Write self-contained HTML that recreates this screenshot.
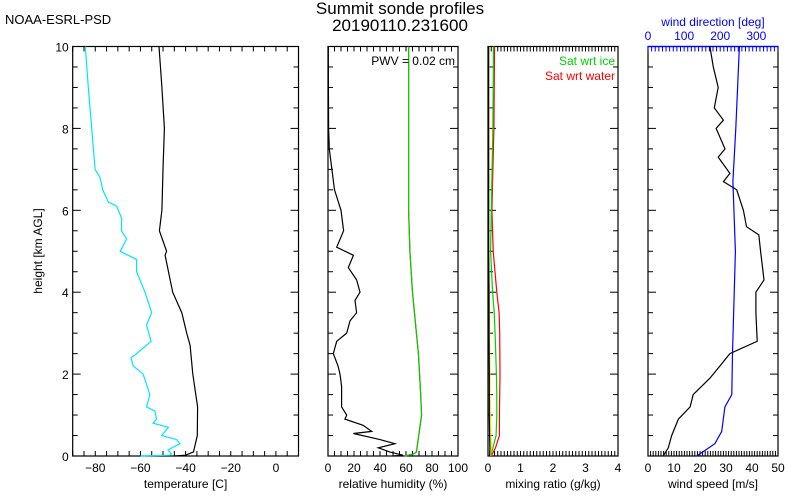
<!DOCTYPE html>
<html><head><meta charset="utf-8"><style>
body{margin:0;background:#fff;}
svg{display:block;font-family:"Liberation Sans",sans-serif;}
</style></head><body>
<svg id="chart" width="800" height="500" viewBox="0 0 800 500">
<text x="5" y="24" font-size="13">NOAA-ESRL-PSD</text>
<text x="400" y="14" font-size="17" text-anchor="middle">Summit sonde profiles</text>
<text x="400" y="31" font-size="17" text-anchor="middle">20190110.231600</text>
<text transform="translate(42,251) rotate(-90)" font-size="12" text-anchor="middle">height [km AGL]</text>
<g id="plots"></g>
</svg>
<script>
// heights (km) and values
const tHeights = [0,0.02,0.1,0.5,1.2,2,2.7,3,3.5,4,4.9,5,5.5,6,7,8,9,10];
const tempValues = [-45,-40,-36.5,-34.8,-34.7,-36.8,-38,-39.5,-41.7,-45.7,-49.1,-48.4,-51.6,-50.5,-50,-49.4,-50.5,-51.8];
const dHeights = [0,0.02,0.05,0.15,0.3,0.4,0.5,0.7,0.8,0.9,1.1,1.2,1.5,2,2.2,2.4,2.5,2.8,3.2,3.5,4,4.5,4.8,5,5.3,5.5,5.8,6.1,6.2,6.5,6.8,7,8,9,10];
const dewValues = [-60,-47,-46.3,-47.8,-42.5,-44,-50.6,-47.6,-54.4,-52.9,-53.6,-57.3,-55.8,-58.8,-63.2,-64.2,-61.7,-55.3,-57.3,-55,-58,-61.7,-61.7,-69,-66.1,-68.4,-68.3,-70.5,-74.2,-76.7,-77.9,-80.1,-81.6,-83.1,-84.4];
const rhHeights = [0,0.02,0.1,0.2,0.3,0.4,0.55,0.6,0.75,0.9,1.0,1.2,1.7,2,2.2,2.5,2.8,3.0,3.3,3.5,3.8,4,4.3,4.6,4.9,5.1,5.5,6,6.5,7,7.5,8,9,10];
const rhValues = [50,57.7,47.4,38.7,51.5,40,19.5,33.6,27,13,14.4,10.5,10.5,9.2,7.7,4.1,6.7,14.4,16.9,22,20.8,24.6,22,15.6,19.5,6.7,12,10,5,3,1,0.5,0.3,0.2];
const rhiHeights = [0,0.05,0.1,1,1.5,2.5,3,4,5,6,8,10];
const rhiValues = [59,66,68,72,71.3,69.5,68,65,63,62,62,62];
const mrHeights = [0,0.2,0.5,1,1.5,2,3,3.5,4,5,6,8,10];
const satWaterValues = [0.1,0.23,0.35,0.35,0.36,0.37,0.36,0.34,0.27,0.16,0.12,0.18,0.2];
const satIceValues = [0.08,0.15,0.25,0.27,0.27,0.26,0.22,0.19,0.14,0.08,0.1,0.15,0.17];
const mixValues = [0.05,0.06,0.05,0.04,0.04,0.04,0.03,0.03,0.03,0.02,0.02,0.02,0.02];
const mixIceValues = [0.08,0.1,0.09,0.07,0.06,0.06,0.05,0.05,0.04,0.03,0.03,0.03,0.03];
const wsHeights = [0,0.2,0.5,0.9,1.2,1.5,1.9,2.2,2.5,2.8,3.5,4,4.3,5,5.4,5.6,6,6.5,6.7,6.9,7.3,7.5,8,8.2,8.5,9,9.5,10];
const wsValues = [5.8,7.8,9.1,11.7,16.2,17.4,23.8,27.7,31.5,42,41.5,41.5,44.6,43.3,42.6,37.9,36.7,34.1,29,31.5,27,29.6,26.2,29,25.5,27,25.1,23.8];
const wdHeights = [0,0.3,0.6,1.2,1.5,2.5,5,6.7,8,10];
const wdValues = [135,185,204,213,232,234,242,235,243,253];
const tempTicks = [-80,-60,-40,-20,0];
const rhTicks = [0,20,40,60,80,100];
const mrTicks = [0,1,2,3,4];
const wsTicks = [0,10,20,30,40,50];
const wdTicks = [0,100,200,300];
const hTicks = [0,2,4,6,8,10];

const NS='http://www.w3.org/2000/svg';
const g=document.getElementById('plots');
const Y0=456, Y1=46.5;
const yS=h=>Y0+(Y1-Y0)*h/10;
function el(tag,attrs,parent){const e=document.createElementNS(NS,tag);for(const k in attrs)e.setAttribute(k,attrs[k]);(parent||g).appendChild(e);return e;}
function mkX(l,r,a,b){return v=>l+(r-l)*(v-a)/(b-a);}
function line(xs,hs,vals,color,name,parent){
  let d='';
  for(let i=0;i<hs.length;i++){d+=(i?'L':'M')+xs(vals[i]).toFixed(1)+','+yS(hs[i]).toFixed(1);}
  const p=el('path',{d:d,fill:'none',stroke:color,'stroke-width':1.2},parent);
  
  
}
function panel(name,l,r,a,b,minor,ticks,xtitle,showY){
  const pg=el('g',{});
  
  
  el('rect',{x:l,y:Y1,width:r-l,height:Y0-Y1,fill:'none',stroke:'#000','stroke-width':1.2},pg);
  const xs=mkX(l,r,a,b);
  for(let v=a;v<=b+1e-9;v+=minor){
    const x=xs(v);
    el('line',{x1:x,y1:Y0,x2:x,y2:Y0-5,stroke:'#000'},pg);
    if(name!=='wind-panel') el('line',{x1:x,y1:Y1,x2:x,y2:Y1+5,stroke:'#000'},pg);
  }
  for(let h=0;h<=10;h+=0.5){
    const y=yS(h), len=(h%2===0)?8:5;
    el('line',{x1:l,y1:y,x2:l+len,y2:y,stroke:'#000'},pg);
    el('line',{x1:r,y1:y,x2:r-len,y2:y,stroke:'#000'},pg);
  }
  ticks.forEach(t=>{const tx=el('text',{x:xs(t),y:472,'font-size':12,'text-anchor':'middle'},pg);tx.textContent=(t<0?'\u2212'+(-t):t);
    
    });
  const tt=el('text',{x:(l+r)/2,y:488,'font-size':12,'text-anchor':'middle'},pg);tt.textContent=xtitle;
  
  
  if(showY){hTicks.forEach(h=>{const t=el('text',{x:l-4,y:yS(h)+5,'font-size':12,'text-anchor':'end'},pg);t.textContent=h;
    
    });}
  return {xs,pg};
}
const p1=panel('temperature-panel',72.7,298.5,-90,10,5,tempTicks,'temperature [C]',true);
line(p1.xs,dHeights,dewValues,'#00e5ff','dewpoint-line',p1.pg);
line(p1.xs,tHeights,tempValues,'#000','temperature-line',p1.pg);
const p2=panel('rh-panel',328,458,0,100,5,rhTicks,'relative humidity (%)',false);
line(p2.xs,rhiHeights,rhiValues,'#f00','rh-water-line',p2.pg);
line(p2.xs,rhiHeights,rhiValues,'#00d000','rh-ice-line',p2.pg);
line(p2.xs,rhHeights,rhValues,'#000','rh-line',p2.pg);
let t=el('text',{x:455,y:65,'font-size':12,'text-anchor':'end'},p2.pg);t.textContent='PWV = 0.02 cm';


const p3=panel('mixing-ratio-panel',488,618,0,4,0.1,mrTicks,'mixing ratio (g/kg)',false);
line(p3.xs,mrHeights,satWaterValues,'#f00','sat-water-line',p3.pg);
line(p3.xs,mrHeights,satIceValues,'#00d000','sat-ice-line',p3.pg);
line(p3.xs,mrHeights,mixIceValues,'#e8e800','mixing-ratio-ice-line',p3.pg);
line(p3.xs,mrHeights,mixValues,'#000','mixing-ratio-line',p3.pg);
t=el('text',{x:615,y:65,'font-size':12,'text-anchor':'end',fill:'#00d000'},p3.pg);t.textContent='Sat wrt ice';


t=el('text',{x:615,y:80,'font-size':12,'text-anchor':'end',fill:'#f00'},p3.pg);t.textContent='Sat wrt water';


const p4=panel('wind-panel',648,778,0,50,1,wsTicks,'wind speed [m/s]',false);
const xd=mkX(648,778,0,360);
for(let v=0;v<=360;v+=10){el('line',{x1:xd(v),y1:Y1,x2:xd(v),y2:Y1+5,stroke:'#00f'},p4.pg);}
el('line',{x1:648,y1:Y1,x2:778,y2:Y1,stroke:'#00f','stroke-width':1.2},p4.pg);
wdTicks.forEach(v=>{const tx=el('text',{x:xd(v),y:40,'font-size':12,'text-anchor':'middle',fill:'#00f'},p4.pg);tx.textContent=v;
  
  });
t=el('text',{x:713,y:26,'font-size':12,'text-anchor':'middle',fill:'#00f'},p4.pg);t.textContent='wind direction [deg]';


line(xd,wdHeights,wdValues,'#00f','wind-direction-line',p4.pg);
line(p4.xs,wsHeights,wsValues,'#000','wind-speed-line',p4.pg);
</script>
</body></html>
